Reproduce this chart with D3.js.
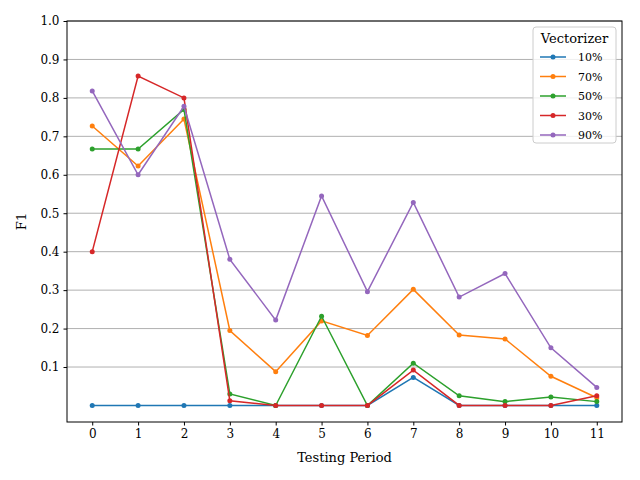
<!DOCTYPE html>
<html>
<head>
<script src="https://d3js.org/d3.v7.min.js"></script>
<style>
  body { margin: 0; background: #fff; }
  text { font-family: "DejaVu Serif", serif; }
</style>
</head>
<body>
<svg id="chart" width="640" height="480"></svg>
<script>
var periods = [0,1,2,3,4,5,6,7,8,9,10,11];
var yTicks = [0.1,0.2,0.3,0.4,0.5,0.6,0.7,0.8,0.9,1.0];
var seriesNames = ["10%","70%","50%","30%","90%"];
var colors = ["#1f77b4","#ff7f0e","#2ca02c","#d62728","#9467bd"];
var s10 = [0,0,0,0,0,0,0,0.073,0,0,0,0];
var s70 = [0.727,0.623,0.745,0.195,0.088,0.22,0.182,0.302,0.183,0.173,0.076,0.02];
var s50 = [0.667,0.667,0.77,0.03,0,0.232,0,0.11,0.025,0.01,0.022,0.01];
var s30 = [0.4,0.857,0.8,0.012,0,0,0,0.092,0,0,0,0.025];
var s90 = [0.818,0.6,0.778,0.38,0.222,0.545,0.296,0.528,0.282,0.343,0.15,0.047];
var allSeries = [s10,s70,s50,s30,s90];

var svg = d3.select("#chart");
var L = 67, R = 622, T = 21, B = 422;
var x = d3.scaleLinear().domain([-0.55,11.55]).range([L,R]);
var y = d3.scaleLinear().domain([-0.043,1.0]).range([B,T]);

// grid
svg.append("g").selectAll("line").data(yTicks).enter().append("line")
  .attr("x1",L).attr("x2",R).attr("y1",d=>y(d)).attr("y2",d=>y(d))
  .attr("stroke","#b0b0b0").attr("stroke-width",1);

var line = d3.line().x((d,i)=>x(periods[i])).y(d=>y(d));
allSeries.forEach(function(s,k){
  svg.append("path").datum(s).attr("d",line).attr("fill","none")
    .attr("stroke",colors[k]).attr("stroke-width",1.5);
  svg.append("g").selectAll("circle").data(s).enter().append("circle")
    .attr("cx",(d,i)=>x(periods[i])).attr("cy",d=>y(d)).attr("r",2.5).attr("fill",colors[k]);
});

svg.append("rect").attr("x",L).attr("y",T).attr("width",R-L).attr("height",B-T)
  .attr("fill","none").attr("stroke","#000").attr("stroke-width",1);

svg.append("g").attr("transform","translate(0,"+B+")")
  .call(d3.axisBottom(x).tickValues(periods).tickSize(3.5).tickPadding(4))
  .call(g=>g.select(".domain").remove())
  .selectAll("text").attr("font-size",12).attr("font-family","DejaVu Serif");
svg.append("g").attr("transform","translate("+L+",0)")
  .call(d3.axisLeft(y).tickValues(yTicks).tickFormat(d3.format(".1f")).tickSize(3.5).tickPadding(4))
  .call(g=>g.select(".domain").remove())
  .selectAll("text").attr("font-size",12).attr("font-family","DejaVu Serif");

svg.append("text").attr("x",(L+R)/2).attr("y",462).attr("text-anchor","middle")
  .attr("font-size",13).text("Testing Period");
svg.append("text").attr("transform","translate(26,"+((T+B)/2)+") rotate(-90)")
  .attr("text-anchor","middle").attr("font-size",13).text("F1");

// legend
var lg = svg.append("g").attr("transform","translate(533,27)");
lg.append("rect").attr("width",83).attr("height",116).attr("rx",3)
  .attr("fill","#fff").attr("fill-opacity",0.8).attr("stroke","#ccc");
lg.append("text").attr("x",41.5).attr("y",16).attr("text-anchor","middle").attr("font-size",13).text("Vectorizer");
seriesNames.forEach(function(n,k){
  var yy = 30 + k*19.5;
  lg.append("line").attr("x1",7).attr("x2",33).attr("y1",yy).attr("y2",yy)
    .attr("stroke",colors[k]).attr("stroke-width",1.5);
  lg.append("circle").attr("cx",20).attr("cy",yy).attr("r",2.5).attr("fill",colors[k]);
  lg.append("text").attr("x",45).attr("y",yy+4).attr("font-size",11).text(n);
});
</script>
</body>
</html>
